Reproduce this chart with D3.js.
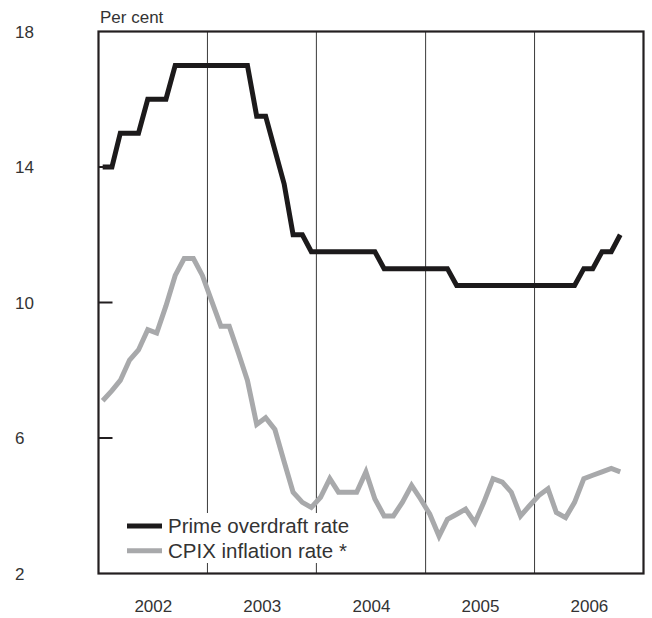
<!DOCTYPE html>
<html>
<head>
<meta charset="utf-8">
<script src="https://cdn.jsdelivr.net/npm/d3@7"></script>
<style>
  body { margin: 0; background: #fff; }
  text { font-family: "Liberation Sans", Arial, sans-serif; fill: #333; }
</style>
</head>
<body>
<svg id="chart" width="652" height="618"></svg>
<script>
// monthly data, Jan 2002 - Oct 2006
var primeRate = [
  14, 14, 15, 15, 15, 16, 16, 16, 17, 17, 17, 17,
  17, 17, 17, 17, 17, 15.5, 15.5, 14.5, 13.5, 12, 12, 11.5,
  11.5, 11.5, 11.5, 11.5, 11.5, 11.5, 11.5, 11, 11, 11, 11, 11,
  11, 11, 11, 10.5, 10.5, 10.5, 10.5, 10.5, 10.5, 10.5, 10.5, 10.5,
  10.5, 10.5, 10.5, 10.5, 10.5, 11, 11, 11.5, 11.5, 12
];
var cpixRate = [
  7.1, 7.4, 7.7, 8.3, 8.6, 9.2, 9.1, 9.9, 10.8, 11.3, 11.3, 10.8,
  10.05, 9.3, 9.3, 8.5, 7.7, 6.4, 6.6, 6.25, 5.3, 4.4, 4.1, 3.95,
  4.25, 4.8, 4.4, 4.4, 4.4, 5.0, 4.2, 3.7, 3.7, 4.1, 4.6, 4.2,
  3.75, 3.1, 3.6, 3.75, 3.9, 3.5, 4.1, 4.8, 4.7, 4.4, 3.7, 4.0,
  4.3, 4.5, 3.8, 3.65, 4.1, 4.8, 4.9, 5.0, 5.1, 5.0
];
var yTicks = [2, 6, 10, 14, 18];
var years = [2002, 2003, 2004, 2005, 2006];
var seriesNames = ["Prime overdraft rate", "CPIX inflation rate *"];
var seriesColors = ["#1c1a1b", "#a8a9ab"];

var svg = d3.select("#chart"),
    plotLeft = 98.5, plotRight = 643.5, plotTop = 31.5, plotBottom = 573.5;

var months = primeRate.map(function(d, i) { return new Date(2002, i, 15.5); });

var x = d3.scaleTime()
    .domain([new Date(2002, 0, 1), new Date(2007, 0, 1)])
    .range([plotLeft, plotRight]);
var y = d3.scaleLinear().domain([2, 18]).range([plotBottom, plotTop]);

// year separators
svg.append("g").selectAll("line")
    .data(years.slice(1))
    .enter().append("line")
    .attr("x1", function(d) { return x(new Date(d, 0, 1)); })
    .attr("x2", function(d) { return x(new Date(d, 0, 1)); })
    .attr("y1", plotTop).attr("y2", plotBottom)
    .attr("stroke", "#3a3a3a").attr("stroke-width", 1);

// legend background hides the separators
svg.append("rect")
    .attr("x", 118).attr("y", 513).attr("width", 245).attr("height", 50)
    .attr("fill", "#fff");

var line = d3.line()
    .x(function(d, i) { return x(months[i]); })
    .y(function(d) { return y(d); });

svg.append("g").selectAll("path")
    .data([cpixRate, primeRate])
    .enter().append("path")
    .attr("d", line)
    .attr("fill", "none")
    .attr("stroke", function(d, i) { return seriesColors[1 - i]; })
    .attr("stroke-width", 5)
    .attr("stroke-linejoin", "miter");

// frame
svg.append("rect")
    .attr("x", plotLeft).attr("y", plotTop)
    .attr("width", plotRight - plotLeft).attr("height", plotBottom - plotTop)
    .attr("fill", "none").attr("stroke", "#231f20").attr("stroke-width", 2.2);

// inner ticks
svg.append("g").selectAll("line")
    .data(yTicks.slice(1, -1))
    .enter().append("line")
    .attr("x1", plotLeft).attr("x2", plotLeft + 14)
    .attr("y1", function(d) { return y(d); })
    .attr("y2", function(d) { return y(d); })
    .attr("stroke", "#231f20").attr("stroke-width", 2);

svg.append("g").selectAll("text")
    .data(yTicks)
    .enter().append("text")
    .attr("x", 15)
    .attr("y", function(d) { return y(d); })
    .attr("dy", "0.36em")
    .style("font-size", "17px")
    .text(function(d) { return d; });

svg.append("text")
    .attr("x", 100).attr("y", 22.5)
    .style("font-size", "17px")
    .text("Per cent");

var xAxis = svg.append("g")
    .attr("transform", "translate(0," + 599.5 + ")")
    .call(d3.axisBottom(x)
      .tickValues(years.map(function(d) { return new Date(d, 6, 2); }))
      .tickSize(0)
      .tickFormat(d3.timeFormat("%Y")));
xAxis.select(".domain").remove();
xAxis.selectAll("text")
    .attr("dy", "0.71em").attr("y", 0)
    .style("font-size", "17px")
    .style("font-family", "'Liberation Sans', Arial, sans-serif")
    .attr("fill", "#333");

// legend
var legend = svg.append("g").selectAll("g")
    .data(seriesNames)
    .enter().append("g")
    .attr("transform", function(d, i) { return "translate(127," + (526 + i * 24.7) + ")"; });
legend.append("line")
    .attr("x1", 0).attr("x2", 35)
    .attr("stroke", function(d, i) { return seriesColors[i]; })
    .attr("stroke-width", 5);
legend.append("text")
    .attr("x", 41).attr("dy", "0.36em")
    .style("font-size", "20.5px")
    .text(function(d) { return d; });
</script>
</body>
</html>
